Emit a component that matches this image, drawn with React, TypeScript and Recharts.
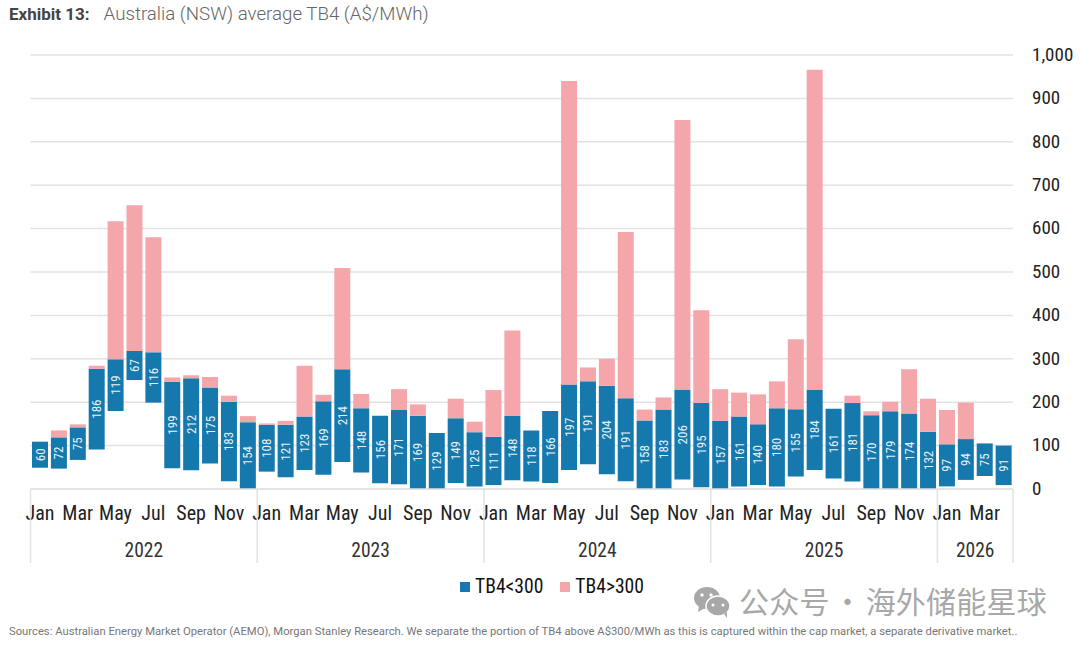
import React from "react";
import { Bar, BarChart, CartesianGrid, LabelList, XAxis, YAxis } from "recharts";

const months = ["Jan", "Feb", "Mar", "Apr", "May", "Jun", "Jul", "Aug", "Sep", "Oct", "Nov", "Dec"];
const years = ["2022", "2023", "2024", "2025", "2026"];
const yearLengths = [12, 12, 12, 12, 4];
const yTicks = [0, 100, 200, 300, 400, 500, 600, 700, 800, 900, 1000];

// empty gap under each bar (the blue does not start at zero)
const base = [
  49, 47, 67, 91, 180, 251, 199, 48, 43, 59, 18, 0,
  40, 27, 44, 33, 62, 38, 13, 11, 0, 0, 14, 6,
  9, 20, 17, 14, 44, 57, 34, 18, 0, 0, 22, 4,
  0, 6, 9, 6, 29, 44, 24, 17, 0, 0, 0, 0,
  6, 21, 30, 9,
];
const below300 = [
  60, 72, 75, 186, 119, 67, 116, 199, 212, 175, 183, 154,
  108, 121, 123, 169, 214, 148, 156, 171, 169, 129, 149, 125,
  111, 148, 118, 166, 197, 191, 204, 191, 158, 183, 206, 195,
  157, 161, 140, 180, 155, 184, 161, 181, 170, 179, 174, 132,
  97, 94, 75, 91,
];
const above300 = [
  0, 16, 7, 7, 318, 336, 265, 10, 7, 24, 14, 14,
  3, 9, 117, 15, 233, 33, 0, 48, 26, 0, 45, 24,
  108, 197, 0, 0, 699, 32, 62, 383, 25, 28, 622, 213,
  73, 55, 69, 62, 161, 738, 0, 17, 9, 22, 102, 76,
  79, 84, 0, 0,
];

const monthIndex = below300.map((_, i) => i);
const data = monthIndex.map((i) => ({
  key: `${months[i % 12]} ${years[Math.floor(i / 12)]}`,
  base: base[i],
  below: below300[i],
  above: above300[i],
}));

const condensed = "'Roboto Condensed', 'Liberation Sans Narrow', Roboto, sans-serif";
const BLUE = "#1579ae";
const PINK = "#f4a6aa";
const RULE = "#e2e2e2";

function MonthTick({ x, y, index }: any) {
  const step = 982.5 / 52;
  const left = x - step / 2;
  let startYear = -1;
  let sum = 0;
  let midYear = -1;
  yearLengths.forEach((len, yi) => {
    if (index === sum) startYear = yi;
    if (index === sum + len / 2) midYear = yi;
    sum += len;
  });
  return (
    <g>
      {index % 2 === 0 && (
        <text x={x} y={y + 31} textAnchor="middle" fontSize={20} fontFamily={condensed} fill="#222">
          {months[index % 12]}
        </text>
      )}
      {startYear >= 0 && <line x1={left} x2={left} y1={y} y2={y + 74} stroke={RULE} strokeWidth={1.5} />}
      {index === 51 && <line x1={left + step} x2={left + step} y1={y} y2={y + 74} stroke={RULE} strokeWidth={1.5} />}
      {midYear >= 0 && (
        <text x={left} y={y + 68} textAnchor="middle" fontSize={19.5} fontFamily={condensed} fill="#333">
          {years[midYear]}
        </text>
      )}
    </g>
  );
}

function ValueLabel({ x, y, width, height, value }: any) {
  const cx = x + width / 2;
  const cy = y + height / 2;
  return (
    <text
      x={cx}
      y={cy}
      transform={`rotate(-90 ${cx} ${cy})`}
      textAnchor="middle"
      dominantBaseline="central"
      fontSize={13}
      fontFamily={condensed}
      fill="#e6f1f7"
    >
      {value}
    </text>
  );
}

function LegendRow() {
  const items = [
    { name: "TB4<300", color: BLUE },
    { name: "TB4>300", color: PINK },
  ];
  return (
    <div style={{ position: "absolute", left: 460, top: 575, display: "flex", gap: 17, fontFamily: condensed, fontSize: 19.6, color: "#111" }}>
      {items.map((item) => (
        <div key={item.name} style={{ display: "flex", alignItems: "center", gap: 5 }}>
          <span style={{ width: 10, height: 10, background: item.color, display: "inline-block" }} />
          {item.name}
        </div>
      ))}
    </div>
  );
}

export default function App() {
  return (
    <div style={{ position: "absolute", left: 0, top: 0, width: 1080, height: 645, background: "#fff", overflow: "hidden" }}>
      <div style={{ position: "absolute", left: 9, top: 3, whiteSpace: "nowrap", fontFamily: "Roboto, sans-serif", color: "#666" }}>
        <b style={{ fontSize: 17, color: "#444", marginRight: 14 }}>Exhibit 13:</b>
        <span style={{ fontSize: 18.7, fontWeight: 300 }}>Australia (NSW) average TB4 (A$/MWh)</span>
      </div>

      <BarChart
        width={1080}
        height={645}
        data={data}
        barCategoryGap="8%"
        margin={{ top: 55, right: 0, bottom: 0, left: 30.5 }}
      >
        <CartesianGrid vertical={false} stroke={RULE} strokeWidth={1.5} />
        <XAxis
          dataKey="key"
          interval={0}
          tick={<MonthTick />}
          tickLine={false}
          tickSize={0}
          tickMargin={0}
          axisLine={{ stroke: RULE, strokeWidth: 1.5 }}
          height={156}
        />
        <YAxis
          orientation="right"
          domain={[0, 1000]}
          ticks={yTicks}
          interval={0}
          width={67}
          axisLine={false}
          tickLine={false}
          tickSize={0}
          tickMargin={19}
          tickFormatter={(v: number) => v.toLocaleString("en-US")}
          tick={{ fontSize: 19, fontFamily: condensed, fill: "#222", dy: -1 }}
        />
        <Bar dataKey="base" stackId="a" fill="none" legendType="none" isAnimationActive={false} />
        <Bar dataKey="below" name="TB4<300" stackId="a" fill={BLUE} isAnimationActive={false}>
          <LabelList dataKey="below" content={<ValueLabel />} />
        </Bar>
        <Bar dataKey="above" name="TB4>300" stackId="a" fill={PINK} isAnimationActive={false} />
      </BarChart>

      <LegendRow />

      <svg style={{ position: "absolute", left: 692, top: 585 }} width={42} height={34}>
        <ellipse cx={15} cy={13} rx={13} ry={11} fill="#a8a8a8" />
        <path d="M7 21 L6 27 L13 23 Z" fill="#a8a8a8" />
        <ellipse cx={26} cy={21} rx={12} ry={10} fill="#a8a8a8" stroke="#fff" strokeWidth={1.5} />
        <path d="M32 29 L35 33 L35 27 Z" fill="#a8a8a8" />
        <circle cx={10} cy={10} r={1.7} fill="#fff" />
        <circle cx={19} cy={10} r={1.7} fill="#fff" />
        <circle cx={21} cy={20} r={1.5} fill="#fff" />
        <circle cx={31} cy={20} r={1.5} fill="#fff" />
      </svg>
      <div style={{ position: "absolute", left: 739, top: 582, whiteSpace: "nowrap", fontFamily: "'Noto Sans CJK SC', sans-serif", fontSize: 30, wordSpacing: -4, letterSpacing: 0.2, lineHeight: "36px", color: "#a8a8a8" }}>
        公众号 · 海外储能星球
      </div>

      <div style={{ position: "absolute", left: 9, top: 625, whiteSpace: "nowrap", fontFamily: "Roboto, sans-serif", fontSize: 11.25, color: "#777" }}>
        Sources: Australian Energy Market Operator (AEMO), Morgan Stanley Research. We separate the portion of TB4 above A$300/MWh as this is captured within the cap market, a separate derivative market..
      </div>
    </div>
  );
}
